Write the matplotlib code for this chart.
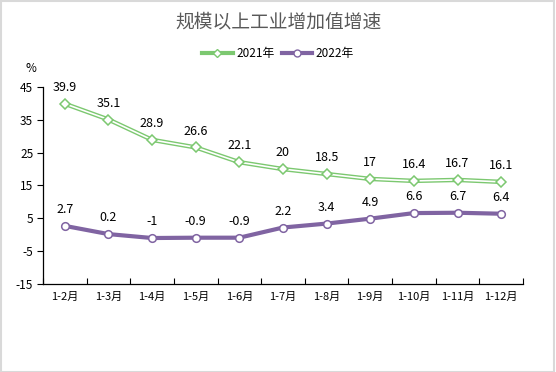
import matplotlib
matplotlib.use("Agg")
import matplotlib.pyplot as plt
from matplotlib.lines import Line2D
from matplotlib.patches import Rectangle

plt.rcParams['font.family'] = ['Noto Sans CJK SC', 'DejaVu Sans']

categories = ["1-2月", "1-3月", "1-4月", "1-5月", "1-6月", "1-7月", "1-8月", "1-9月", "1-10月", "1-11月", "1-12月"]
v2021 = [39.9, 35.1, 28.9, 26.6, 22.1, 20, 18.5, 17, 16.4, 16.7, 16.1]
v2022 = [2.7, 0.2, -1, -0.9, -0.9, 2.2, 3.4, 4.9, 6.6, 6.7, 6.4]
labels2021 = ["39.9", "35.1", "28.9", "26.6", "22.1", "20", "18.5", "17", "16.4", "16.7", "16.1"]
labels2022 = ["2.7", "0.2", "-1", "-0.9", "-0.9", "2.2", "3.4", "4.9", "6.6", "6.7", "6.4"]
yticks = [-15, -5, 5, 15, 25, 35, 45]
series_names = ["2021年", "2022年"]
title = "规模以上工业增加值增速"

green = "#7cc870"
purple = "#8064a2"

fig = plt.figure(figsize=(5.56, 3.72), dpi=100)
fig.patches.append(Rectangle((0.001, 0.001), 0.996, 0.996, transform=fig.transFigure,
                             fill=False, edgecolor="#d9d9d9", linewidth=1.5))
ax = fig.add_axes([0.0773, 0.2366, 0.8633, 0.5295])
x = list(range(len(categories)))

# 2021: double line effect
ax.plot(x, v2021, color=green, linewidth=3.2, solid_capstyle='round', zorder=3)
ax.plot(x, v2021, color="white", linewidth=1.2, zorder=4)
ax.plot(x, v2021, linestyle='none', marker='D', markersize=5, markerfacecolor='white',
        markeredgecolor=green, markeredgewidth=1.1, zorder=5)
# 2022
ax.plot(x, v2022, color=purple, linewidth=3.0, zorder=3)
ax.plot(x, v2022, linestyle='none', marker='o', markersize=5.5, markerfacecolor='white',
        markeredgecolor=purple, markeredgewidth=1.1, zorder=5)

for xi, v, t in zip(x, v2021, labels2021):
    ax.annotate(t, (xi, v), xytext=(0, 7), textcoords='offset points', ha='center',
                va='bottom', fontsize=9, color='black')
for xi, v, t in zip(x, v2022, labels2022):
    ax.annotate(t, (xi, v), xytext=(0, 7), textcoords='offset points', ha='center',
                va='bottom', fontsize=9, color='black')

ax.set_xlim(-0.5, len(categories) - 0.5)
ax.set_ylim(-15, 45)
ax.set_yticks(yticks)
ax.set_yticklabels([str(t) for t in yticks], fontsize=8.5)
ax.set_xticks(x)
ax.set_xticklabels(categories, fontsize=8)
ax.tick_params(axis='x', which='major', length=0, pad=6)
ax.set_xticks([i - 0.5 for i in range(len(categories) + 1)], minor=True)
ax.tick_params(axis='x', which='minor', direction='in', length=4, width=0.8)
ax.tick_params(axis='y', direction='out', length=4, width=0.8, pad=3)
for s in ['top', 'right']:
    ax.spines[s].set_visible(False)
for s in ['left', 'bottom']:
    ax.spines[s].set_linewidth(0.9)
    ax.spines[s].set_color('black')

fig.text(0.5, 0.94, title, ha='center', va='center', fontsize=13.5, color='#595959')
fig.text(0.055, 0.815, "%", ha='center', va='center', fontsize=8.5)

h1 = Line2D([], [], color=green, linewidth=3, marker='D', markersize=4.5,
            markerfacecolor='white', markeredgecolor=green)
h2 = Line2D([], [], color=purple, linewidth=3, marker='o', markersize=5,
            markerfacecolor='white', markeredgecolor=purple)
fig.legend([h1, h2], series_names, loc='center', bbox_to_anchor=(0.5, 0.855), ncol=2,
           frameon=False, fontsize=8.5, handlelength=2.6, columnspacing=0.6, handletextpad=0.3)

fig.savefig("out.png", dpi=100)
